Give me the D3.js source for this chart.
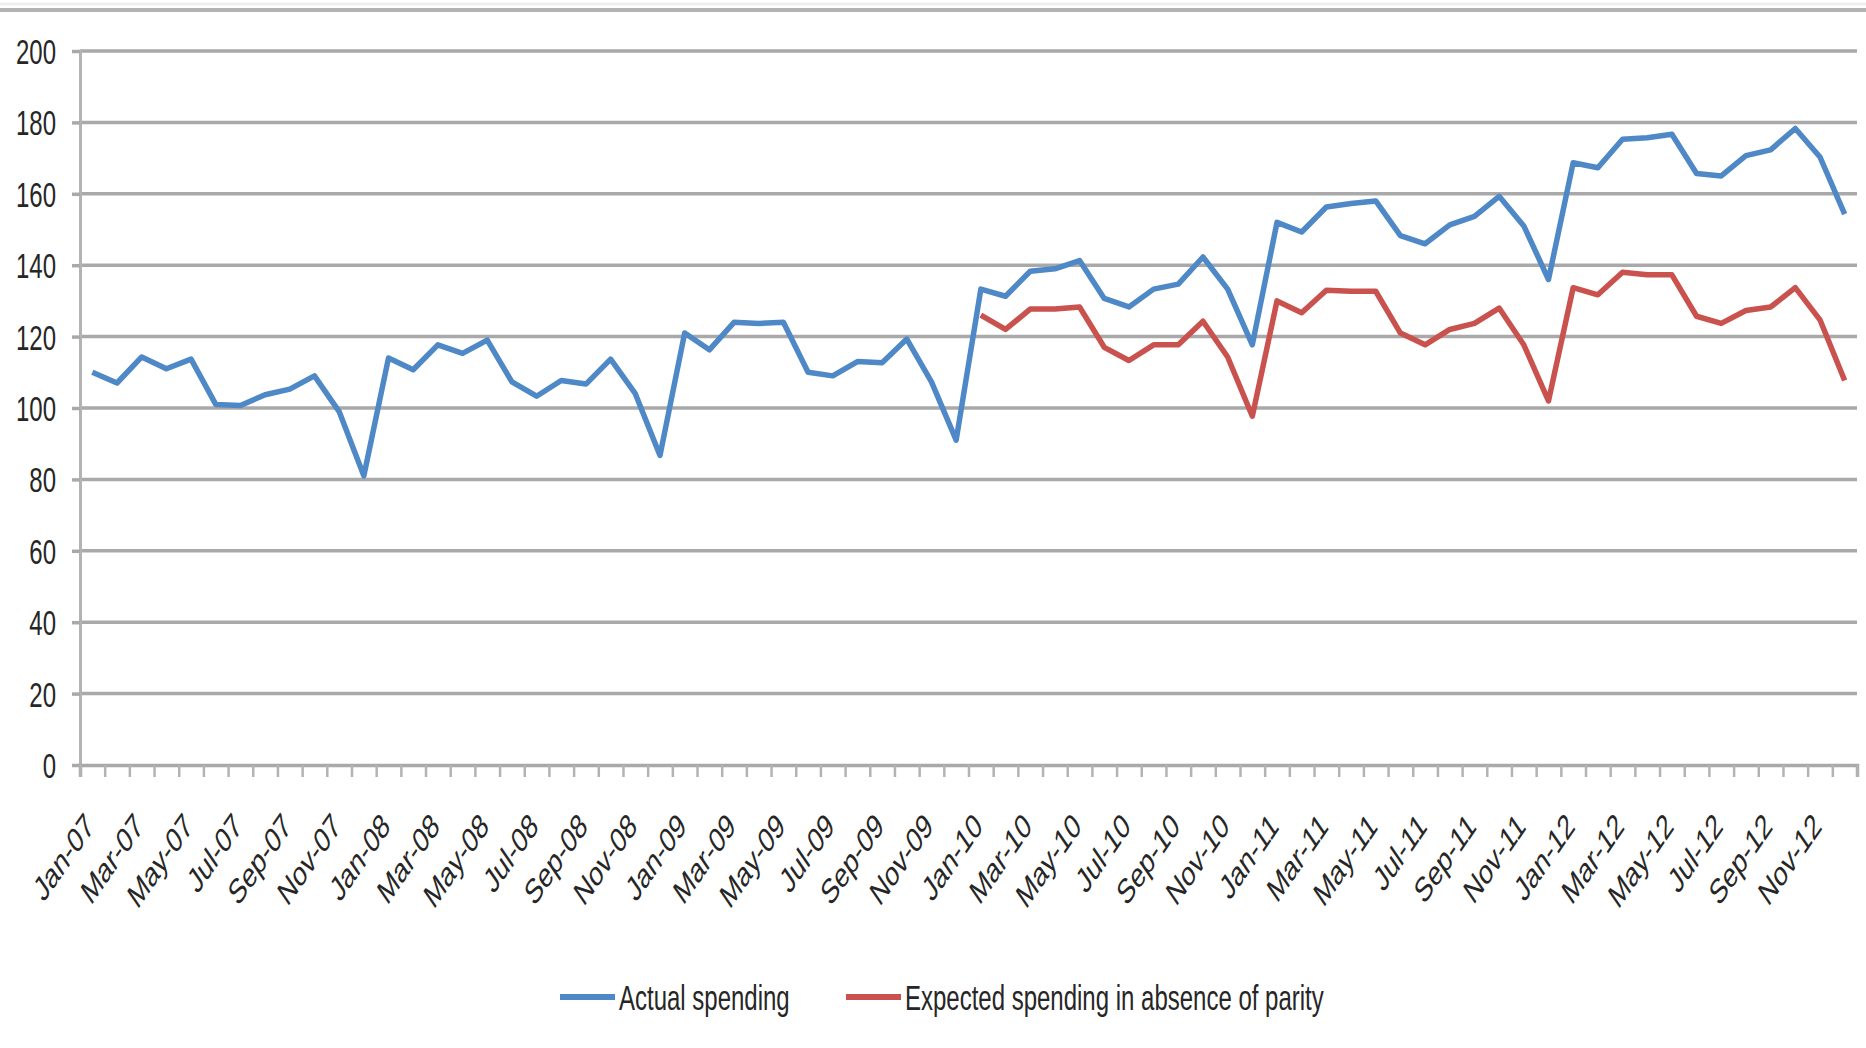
<!DOCTYPE html>
<html>
<head>
<meta charset="utf-8">
<script src="https://cdn.jsdelivr.net/npm/d3@7"></script>
<style>
  html, body { margin: 0; padding: 0; background: #fff; }
  svg { display: block; }
  text { font-family: "Liberation Sans", Arial, sans-serif; fill: #262626; }
</style>
</head>
<body>
<svg id="chart" width="1866" height="1048"></svg>
<script>
// Monthly categories, Jan-07 .. Dec-12
const years = ["07", "08", "09", "10", "11", "12"];
const monthNames = ["Jan","Feb","Mar","Apr","May","Jun","Jul","Aug","Sep","Oct","Nov","Dec"];
const months = years.flatMap(yr => monthNames.map(m => m + "-" + yr));

// Actual spending, one value per month
const actualSpending = [
  110, 107, 114.3, 111, 113.7, 101, 100.7, 103.7, 105.3, 109, 99, 81,
  114, 110.7, 117.7, 115.3, 119, 107.3, 103.3, 107.7, 106.7, 113.7, 104, 86.7,
  121, 116.3, 124, 123.7, 124, 110, 109, 113, 112.7, 119.3, 107.3, 91,
  133.3, 131.3, 138.3, 139, 141.3, 130.7, 128.3, 133.3, 134.7, 142.3, 133.3, 117.7,
  152, 149.3, 156.3, 157.3, 158, 148.3, 146, 151.3, 153.7, 159.3, 151, 136,
  168.7, 167.3, 175.3, 175.7, 176.7, 165.7, 165, 170.7, 172.3, 178.3, 170.3, 154.3
];

// Expected spending in absence of parity, starting Jan-10
const expectedSpending = [
  null, null, null, null, null, null, null, null, null, null, null, null,
  null, null, null, null, null, null, null, null, null, null, null, null,
  null, null, null, null, null, null, null, null, null, null, null, null,
  126, 122, 127.7, 127.7, 128.3, 117, 113.3, 117.7, 117.7, 124.3, 114.3, 97.7,
  130, 126.7, 133, 132.7, 132.7, 121, 117.7, 122, 123.7, 128, 117.7, 102,
  133.7, 131.7, 138, 137.3, 137.3, 125.7, 123.7, 127.3, 128.3, 133.7, 124.7, 107.7
];

const yTicks = [0, 20, 40, 60, 80, 100, 120, 140, 160, 180, 200];
const seriesNames = ["Actual spending", "Expected spending in absence of parity"];
const seriesColors = ["#4f88c6", "#c9524e"];

const svg = d3.select("#chart");
const plotLeft = 80, plotRight = 1857, plotTop = 51, plotBottom = 765;
const stretch = "scale(1,1.45)";

// Top border rule
svg.append("line")
  .attr("x1", 0).attr("x2", 1866).attr("y1", 4).attr("y2", 4)
  .attr("stroke", "#eeeeee").attr("stroke-width", 3);
svg.append("line")
  .attr("x1", 0).attr("x2", 1866).attr("y1", 10).attr("y2", 10)
  .attr("stroke", "#b3b3b3").attr("stroke-width", 4);

const x = d3.scaleBand().domain(months).range([plotLeft, plotRight]).paddingInner(0).paddingOuter(0);
const xEdge = d3.scaleLinear().domain([0, months.length]).range([plotLeft, plotRight]);
const y = d3.scaleLinear().domain([0, 200]).range([plotBottom, plotTop]);

// Horizontal gridlines
svg.append("g").selectAll("line").data(yTicks.filter(d => d > 0)).join("line")
  .attr("x1", plotLeft).attr("x2", plotRight)
  .attr("y1", d => y(d)).attr("y2", d => y(d))
  .attr("stroke", "#a9a9a9").attr("stroke-width", 3.5);

// Y axis
const yAxis = svg.append("g")
  .attr("transform", `translate(${plotLeft},0)`)
  .call(d3.axisLeft(y).tickValues(yTicks).tickSize(8).tickPadding(16));
yAxis.select(".domain").attr("stroke", "#b3b3b3").attr("stroke-width", 3);
yAxis.selectAll(".tick line").attr("stroke", "#a9a9a9").attr("stroke-width", 3.5);
yAxis.selectAll(".tick text")
  .attr("font-size", 24).attr("fill", "#262626")
  .attr("transform", stretch).attr("dy", "0.36em");

// X axis: tick marks at category boundaries
const xTicks = svg.append("g")
  .attr("transform", `translate(0,${plotBottom})`)
  .call(d3.axisBottom(xEdge).tickValues(d3.range(months.length + 1)).tickSize(12).tickFormat(""));
xTicks.select(".domain").attr("stroke", "#a9a9a9").attr("stroke-width", 3.5);
xTicks.selectAll(".tick line").attr("stroke", "#b3b3b3").attr("stroke-width", 2.5);

// X axis: labels every second month, rotated
const xLabels = svg.append("g")
  .attr("transform", `translate(0,${plotBottom})`)
  .call(d3.axisBottom(x).tickValues(months.filter((d, i) => i % 2 === 0)).tickSize(0));
xLabels.select(".domain").remove();
xLabels.selectAll(".tick text")
  .attr("font-size", 24).attr("fill", "#262626")
  .attr("text-anchor", "end")
  .attr("y", 0).attr("dy", 0)
  .attr("transform", `translate(3,63) ${stretch} rotate(-45)`);

// Series lines
const line = d3.line()
  .defined(d => d.v != null)
  .x(d => x(d.m) + x.bandwidth() / 2)
  .y(d => y(d.v));

[actualSpending, expectedSpending].forEach((vals, k) => {
  svg.append("path")
    .datum(months.map((m, i) => ({ m, v: vals[i] })))
    .attr("fill", "none")
    .attr("stroke", seriesColors[k])
    .attr("stroke-width", 5.5)
    .attr("stroke-linejoin", "round")
    .attr("d", line);
});

// Legend
const legendItems = [
  { name: seriesNames[0], color: seriesColors[0], x: 560 },
  { name: seriesNames[1], color: seriesColors[1], x: 846 }
];
const legend = svg.append("g").selectAll("g").data(legendItems).join("g")
  .attr("transform", d => `translate(${d.x},997)`);
legend.append("line")
  .attr("x1", 0).attr("x2", 55).attr("y1", 0).attr("y2", 0)
  .attr("stroke", d => d.color).attr("stroke-width", 6);
legend.append("text")
  .attr("transform", `translate(59,0) ${stretch}`)
  .attr("dy", "0.36em")
  .attr("font-size", 24).attr("fill", "#262626")
  .text(d => d.name);
</script>
</body>
</html>
